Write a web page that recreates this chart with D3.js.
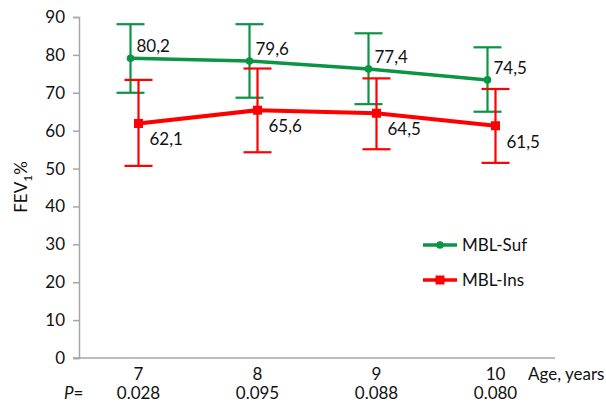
<!DOCTYPE html>
<html>
<head>
<meta charset="utf-8">
<script src="https://cdn.jsdelivr.net/npm/d3@7"></script>
<style>
  body { margin: 0; background: #fff; }
  text { font-family: Lato, "Open Sans", sans-serif; fill: #111; }
</style>
</head>
<body>
<script>
// ages on the x axis and P values under them
const ages = ["7", "8", "9", "10"];
const pValues = ["0.028", "0.095", "0.088", "0.080"];

// MBL-Suf (green)
const sufMean = [79.1, 78.4, 76.3, 73.4];
const sufHigh = [88.1, 88.1, 85.7, 82.0];
const sufLow = [70.0, 68.7, 67.0, 65.0];
const sufLabels = ["80,2", "79,6", "77,4", "74,5"];

// MBL-Ins (red)
const insMean = [61.9, 65.4, 64.6, 61.3];
const insHigh = [73.4, 76.4, 73.8, 71.0];
const insLow = [50.7, 54.3, 55.1, 51.5];
const insLabels = ["62,1", "65,6", "64,5", "61,5"];

const yTicks = [0, 10, 20, 30, 40, 50, 60, 70, 80, 90];

const width = 606, height = 404;
const green = "#0a9444", red = "#ff0000", axisCol = "#a6a6a6";
const fs = "17px";

const svg = d3.select("body").append("svg")
    .attr("width", width)
    .attr("height", height);

const x = d3.scaleBand().domain(ages).range([79, 555]);
const y = d3.scaleLinear().domain([0, 90]).range([358, 17]);
const cx = (a, off) => x(a) + x.bandwidth() / 2 + off;

// y axis
const yAxis = svg.append("g")
    .attr("transform", "translate(79,0)")
    .call(d3.axisLeft(y).tickValues(yTicks).tickSize(6).tickPadding(8));
yAxis.select(".domain").attr("stroke", axisCol).attr("stroke-width", 1.5);
yAxis.selectAll(".tick line").attr("stroke", axisCol).attr("stroke-width", 1.5);
yAxis.selectAll(".tick text")
    .style("font-family", "Lato, sans-serif")
    .style("font-size", fs)
    .attr("fill", "#111");

// x axis line
svg.append("line")
    .attr("x1", 73).attr("x2", 555)
    .attr("y1", y(0)).attr("y2", y(0))
    .attr("stroke", axisCol).attr("stroke-width", 1.5);

// category labels and P values
svg.append("g").selectAll("text")
    .data(ages).join("text")
    .attr("x", d => cx(d, 0))
    .attr("y", 380)
    .attr("text-anchor", "middle")
    .style("font-size", fs)
    .text(d => d);

svg.append("g").selectAll("text")
    .data(pValues).join("text")
    .attr("x", (d, i) => cx(ages[i], 0))
    .attr("y", 399)
    .attr("text-anchor", "middle")
    .style("font-size", fs)
    .text(d => d);

const pLab = svg.append("text").attr("x", 64).attr("y", 399).style("font-size", fs);
pLab.append("tspan").style("font-style", "italic").text("P");
pLab.append("tspan").text("=");

svg.append("text")
    .attr("x", 528).attr("y", 380)
    .style("font-size", fs)
    .text("Age, years");

// y title
const yt = svg.append("text")
    .attr("transform", "translate(27,187) rotate(-90)")
    .attr("text-anchor", "middle")
    .style("font-size", fs);
yt.append("tspan").text("FEV");
yt.append("tspan").attr("dy", 5).style("font-size", "12px").text("1");
yt.append("tspan").attr("dy", -5).text("%");

function drawSeries(mean, hi, lo, labels, col, off, lineW, marker, labDx, labDy) {
    const g = svg.append("g");
    // error bars
    const eb = g.append("g").attr("stroke", col).attr("stroke-width", 2.2);
    ages.forEach((a, i) => {
        const px = cx(a, off);
        eb.append("line").attr("x1", px).attr("x2", px).attr("y1", y(hi[i])).attr("y2", y(lo[i]));
        eb.append("line").attr("x1", px - 14).attr("x2", px + 14).attr("y1", y(hi[i])).attr("y2", y(hi[i]));
        eb.append("line").attr("x1", px - 14).attr("x2", px + 14).attr("y1", y(lo[i])).attr("y2", y(lo[i]));
    });
    const line = d3.line().x((d, i) => cx(ages[i], off)).y(d => y(d));
    g.append("path").datum(mean)
        .attr("d", line)
        .attr("fill", "none")
        .attr("stroke", col)
        .attr("stroke-width", lineW);
    if (marker === "circle") {
        g.selectAll("circle").data(mean).join("circle")
            .attr("cx", (d, i) => cx(ages[i], off))
            .attr("cy", d => y(d))
            .attr("r", 3.8)
            .attr("fill", col);
    } else {
        g.selectAll("rect.m").data(mean).join("rect")
            .attr("class", "m")
            .attr("x", (d, i) => cx(ages[i], off) - 4.5)
            .attr("y", d => y(d) - 4.5)
            .attr("width", 9).attr("height", 9)
            .attr("fill", col);
    }
    g.selectAll("text").data(labels).join("text")
        .attr("x", (d, i) => cx(ages[i], off) + labDx)
        .attr("y", (d, i) => y(mean[i]) + labDy)
        .style("font-size", fs)
        .text(d => d);
}

drawSeries(sufMean, sufHigh, sufLow, sufLabels, green, -8, 3.5, "circle", 6, -6);
drawSeries(insMean, insHigh, insLow, insLabels, red, 0, 4, "square", 11, 22);

// legend
const legend = [
    { name: "MBL-Suf", col: green, marker: "circle", y: 245 },
    { name: "MBL-Ins", col: red, marker: "square", y: 280 }
];
legend.forEach(l => {
    svg.append("line")
        .attr("x1", 423).attr("x2", 457).attr("y1", l.y).attr("y2", l.y)
        .attr("stroke", l.col).attr("stroke-width", 3.5);
    if (l.marker === "circle") {
        svg.append("circle").attr("cx", 440).attr("cy", l.y).attr("r", 3.8).attr("fill", l.col);
    } else {
        svg.append("rect").attr("x", 435.5).attr("y", l.y - 4.5).attr("width", 9).attr("height", 9).attr("fill", l.col);
    }
    svg.append("text")
        .attr("x", 462).attr("y", l.y + 6)
        .style("font-size", fs)
        .text(l.name);
});
</script>
</body>
</html>
